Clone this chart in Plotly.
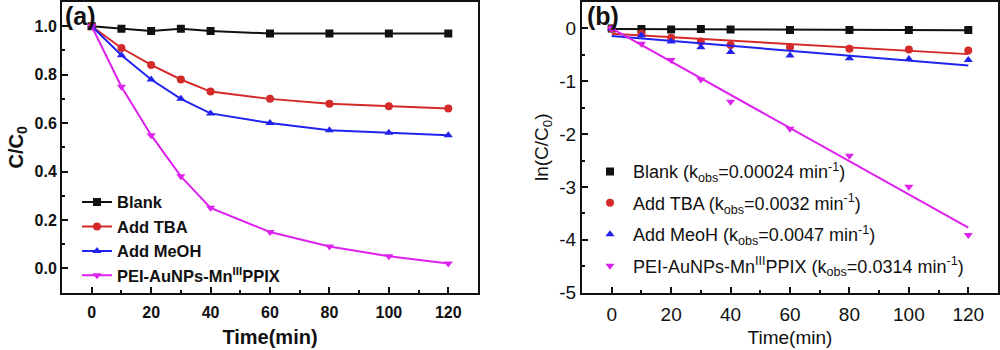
import numpy as np
import plotly.graph_objects as go

time_min = [0, 10, 20, 30, 40, 60, 80, 100, 120]
blank = [1.0, 0.99, 0.98, 0.99, 0.98, 0.97, 0.97, 0.97, 0.97]
add_tba = [1.0, 0.91, 0.84, 0.78, 0.73, 0.70, 0.68, 0.67, 0.66]
add_meoh = [1.0, 0.88, 0.78, 0.70, 0.64, 0.60, 0.57, 0.56, 0.55]
pei = [1.0, 0.75, 0.55, 0.38, 0.25, 0.15, 0.09, 0.05, 0.02]

names_a = ["Blank", "Add TBA", "Add MeOH", "PEI-AuNPs-Mn<sup>III</sup>PPIX"]
names_b = [
    "Blank (k<sub>obs</sub>=0.00024 min<sup>-1</sup>)",
    "Add TBA (k<sub>obs</sub>=0.0032 min<sup>-1</sup>)",
    "Add MeoH (k<sub>obs</sub>=0.0047 min<sup>-1</sup>)",
    "PEI-AuNPs-Mn<sup>III</sup>PPIX (k<sub>obs</sub>=0.0314 min<sup>-1</sup>)",
]
y_ticks_a = [0.0, 0.2, 0.4, 0.6, 0.8, 1.0]
y_ticks_b = [0, -1, -2, -3, -4, -5]
y_ticktext_b = ["0", "-1", "-2", "-3", "-4", "-5"]
x_ticks = [0, 20, 40, 60, 80, 100, 120]

series = [blank, add_tba, add_meoh, pei]
colors = ["#111111", "#d42a2a", "#2222ee", "#dd22ee"]
symbols = ["square", "circle", "triangle-up", "triangle-down"]

fig = go.Figure()
t = np.array(time_min, dtype=float)
for i, s in enumerate(series):
    fig.add_trace(go.Scatter(
        x=time_min, y=s, mode="lines+markers", name=names_a[i],
        line=dict(color=colors[i], width=2),
        marker=dict(symbol=symbols[i], size=8, color=colors[i]),
        xaxis="x", yaxis="y", legend="legend", legendgroup="a%d" % i,
    ))

for i, s in enumerate(series):
    lny = np.log(np.array(s))
    fig.add_trace(go.Scatter(
        x=time_min, y=lny, mode="markers", name=names_b[i],
        marker=dict(symbol=symbols[i], size=8, color=colors[i]),
        xaxis="x2", yaxis="y2", legend="legend2", legendgroup="b%d" % i,
    ))
    slope, icpt = np.polyfit(t, lny, 1)
    xf = np.array([t.min(), t.max()])
    fig.add_trace(go.Scatter(
        x=xf, y=slope * xf + icpt, mode="lines", showlegend=False,
        line=dict(color=colors[i], width=2),
        xaxis="x2", yaxis="y2",
    ))

FAM = "Liberation Sans, Arial"
bold = dict(family=FAM, size=16, color="#111", weight=700)
reg = dict(family=FAM, size=19, color="#111")

axis_common = dict(
    showline=True, linecolor="#111", linewidth=2, mirror=True,
    showgrid=False, zeroline=False, ticks="inside", ticklen=6, tickwidth=2,
    tickcolor="#111",
)
minor_common = dict(ticks="inside", ticklen=3, tickwidth=2, tickcolor="#111")

fig.update_layout(
    width=1000, height=350, margin=dict(l=0, r=0, t=0, b=0),
    paper_bgcolor="white", plot_bgcolor="white",
    xaxis=dict(domain=[0.062, 0.478], range=[-10, 130], tickvals=x_ticks,
               minor=dict(dtick=10, tick0=0, **minor_common),
               tickfont=bold, anchor="y", ticklabelstandoff=4,
               title=dict(text="Time(min)", font=dict(family=FAM, size=20, color="#111", weight=700), standoff=10),
               **axis_common),
    yaxis=dict(domain=[0.137, 0.994], range=[-0.1, 1.1], tickvals=y_ticks_a, tickformat=".1f",
               minor=dict(dtick=0.1, tick0=0, **minor_common),
               tickfont=bold, anchor="x",
               title=dict(text="C/C<sub>0</sub>", font=dict(family=FAM, size=20, color="#111", weight=700), standoff=6),
               **axis_common),
    xaxis2=dict(domain=[0.582, 0.998], range=[-10, 130], tickvals=x_ticks,
                minor=dict(dtick=10, tick0=0, **minor_common),
                tickfont=reg, anchor="y2", ticklabelstandoff=4,
                title=dict(text="Time(min)", font=reg, standoff=6),
                **axis_common),
    yaxis2=dict(domain=[0.137, 0.994], range=[-5, 0.5], tickvals=y_ticks_b, ticktext=y_ticktext_b,
                minor=dict(dtick=0.5, tick0=0, **minor_common),
                tickfont=reg, anchor="x2",
                title=dict(text="ln(C/C<sub>0</sub>)", font=reg, standoff=6),
                **axis_common),
    legend=dict(x=0.077, y=0.455, xanchor="left", yanchor="top", bgcolor="rgba(0,0,0,0)",
                font=dict(family=FAM, size=16.5, color="#111", weight=700),
                tracegroupgap=0, itemwidth=30),
    legend2=dict(x=0.587, y=0.548, xanchor="left", yanchor="top", bgcolor="rgba(0,0,0,0)",
                 font=dict(family=FAM, size=18, color="#111"), tracegroupgap=5, itemwidth=36),
    annotations=[
        dict(text="(a)", x=0.063, y=1.0, xref="paper", yref="paper", xanchor="left", yanchor="top",
             showarrow=False, font=dict(family=FAM, size=25, color="#111", weight=700)),
        dict(text="(b)", x=0.585, y=1.0, xref="paper", yref="paper", xanchor="left", yanchor="top",
             showarrow=False, font=dict(family=FAM, size=25, color="#111", weight=700)),
    ],
)

fig.write_html("out.html")
